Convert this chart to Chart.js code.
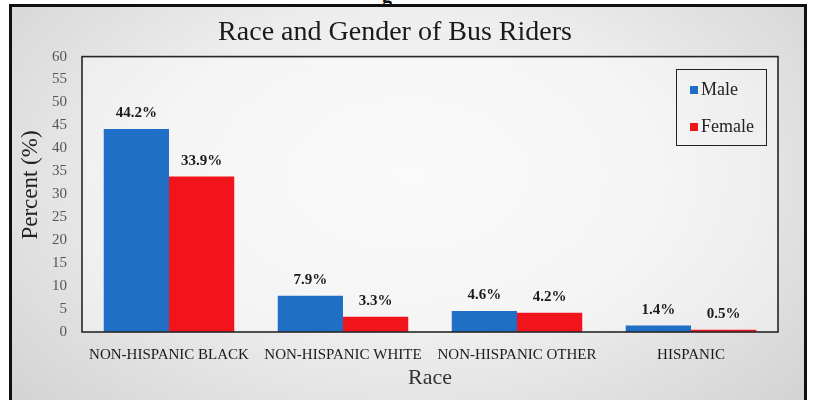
<!DOCTYPE html>
<html>
<head>
<meta charset="utf-8">
<script src="https://cdn.jsdelivr.net/npm/chart.js@4/dist/chart.umd.min.js"></script>
<style>
  html, body { margin: 0; padding: 0; background: #fff; overflow: hidden; }
  #page { position: relative; width: 814px; height: 400px; overflow: hidden; }
  #cut { position: absolute; left: 382px; top: -16px; font: bold 20px "Liberation Serif", serif; color: #111; }
  #frame {
    position: absolute; left: 9px; top: 4px; width: 792px; height: 420px;
    border: 3px solid #111; border-bottom: none;
    background: radial-gradient(ellipse at 50% 40%, #f7f7f7 0%, #eeeeee 45%, #d0d0d0 100%);
  }
  #chart { position: absolute; left: 0; top: 0; }
  #legend {
    position: absolute; left: 676px; top: 69px; width: 89px; height: 75px;
    border: 1px solid #222; font: 18px "Liberation Serif", serif; color: #222;
  }
  #legend .item { position: absolute; left: 13px; display: flex; align-items: center; }
  #legend .sw { width: 8px; height: 8px; margin-right: 3px; }
</style>
</head>
<body>
<div id="page">
  <div id="cut">g</div>
  <div id="frame"></div>
  <canvas id="chart" width="814" height="400"></canvas>
  <div id="legend"></div>
</div>
<script>
const categories = ["NON-HISPANIC BLACK", "NON-HISPANIC WHITE", "NON-HISPANIC OTHER", "HISPANIC"];
const maleValues = [44.2, 7.9, 4.6, 1.4];
const femaleValues = [33.9, 3.3, 4.2, 0.5];
const seriesNames = ["Male", "Female"];
const yMax = 60;
const yStep = 5;
const yTitle = "Percent (%)";

const blue = "#1f6fc6";
const red = "#f2141d";
const serif = "'Liberation Serif', 'Times New Roman', serif";

// plot box + light fill behind bars
const plotBox = {
  id: "plotBox",
  beforeDatasetsDraw(chart) {
    const { ctx, chartArea: a } = chart;
    ctx.save();
    ctx.fillStyle = "rgba(255,255,255,0.4)";
    ctx.fillRect(a.left, a.top, a.right - a.left, a.bottom - a.top);
    ctx.restore();
  },
  afterDatasetsDraw(chart) {
    const { ctx, chartArea: a } = chart;
    ctx.save();
    ctx.strokeStyle = "#262626";
    ctx.lineWidth = 1.6;
    ctx.strokeRect(a.left, a.top, a.right - a.left, a.bottom - a.top);
    ctx.restore();
  },
};

// value labels above bars
const barLabels = {
  id: "barLabels",
  afterDatasetsDraw(chart) {
    const { ctx } = chart;
    ctx.save();
    ctx.font = "bold 15px " + serif;
    ctx.fillStyle = "#1a1a1a";
    ctx.textAlign = "center";
    ctx.textBaseline = "bottom";
    chart.data.datasets.forEach((ds, i) => {
      chart.getDatasetMeta(i).data.forEach((bar, j) => {
        ctx.fillText(ds.data[j].toFixed(1) + "%", bar.x, bar.y - 8);
      });
    });
    ctx.restore();
  },
};

// y axis title, sits a bit above the plot middle like the original
const yAxisTitle = {
  id: "yAxisTitle",
  afterDraw(chart) {
    const { ctx } = chart;
    ctx.save();
    ctx.translate(31, 185);
    ctx.rotate(-Math.PI / 2);
    ctx.font = "23px " + serif;
    ctx.fillStyle = "#222";
    ctx.textAlign = "center";
    ctx.textBaseline = "middle";
    ctx.fillText(yTitle, 0, 0);
    ctx.restore();
  },
};

const chart = new Chart(document.getElementById("chart"), {
  type: "bar",
  data: {
    labels: categories,
    datasets: [
      { label: seriesNames[0], data: maleValues, backgroundColor: blue },
      { label: seriesNames[1], data: femaleValues, backgroundColor: red },
    ],
  },
  options: {
    responsive: false,
    animation: false,
    devicePixelRatio: 1,
    categoryPercentage: 0.75,
    barPercentage: 1,
    layout: { padding: { left: 12, right: 36, top: 0, bottom: 0 } },
    plugins: {
      legend: { display: false },
      tooltip: { enabled: false },
      title: {
        display: true,
        text: "Race and Gender of Bus Riders",
        color: "#1a1a1a",
        font: { family: serif, size: 28, weight: "normal" },
        padding: { top: 16, bottom: 7 },
      },
    },
    scales: {
      x: {
        grid: { display: false },
        border: { display: false },
        ticks: { color: "#1a1a1a", font: { family: serif, size: 15 }, padding: 6, maxRotation: 0, autoSkip: false },
        title: {
          display: true,
          text: "Race",
          color: "#333",
          font: { family: serif, size: 22 },
          padding: { top: 0, bottom: 9 },
        },
        afterFit: (s) => { s.height = 68; },
      },
      y: {
        min: 0,
        max: yMax,
        grid: { display: false },
        border: { display: false },
        ticks: { stepSize: yStep, color: "#555", font: { family: serif, size: 15 }, padding: 7 },
        afterFit: (s) => { s.width = 70; },
      },
    },
  },
  plugins: [plotBox, barLabels, yAxisTitle],
});

// legend built from the datasets
const legend = document.getElementById("legend");
chart.data.datasets.forEach((ds, i) => {
  const item = document.createElement("div");
  item.className = "item";
  item.style.top = (i === 0 ? 9 : 46) + "px";
  item.innerHTML = '<span class="sw" style="background:' + ds.backgroundColor + '"></span>' + ds.label;
  legend.appendChild(item);
});
</script>
</body>
</html>
